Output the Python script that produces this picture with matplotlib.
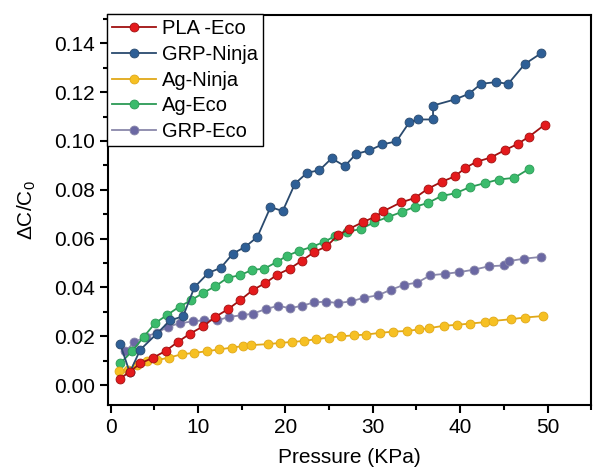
import numpy as np
import matplotlib
matplotlib.use("Agg")
import matplotlib.pyplot as plt
from matplotlib.ticker import MultipleLocator

# Data
pla_eco_x = [1.1, 2.2, 3.4, 4.9, 6.3, 7.7, 9.1, 10.6, 12.0, 13.4, 14.8, 16.3, 17.7, 19.1,
             20.5, 21.9, 23.3, 24.7, 26.0, 27.3, 28.9, 30.3, 31.2, 33.2, 34.8, 36.3, 37.9,
             39.4, 40.6, 41.9, 43.5, 45.1, 46.6, 47.9, 49.7]
pla_eco_y = [0.0027, 0.0055, 0.0089, 0.0113, 0.0140, 0.0177, 0.0211, 0.0241, 0.0280, 0.0310,
             0.0347, 0.0390, 0.0418, 0.0453, 0.0477, 0.0510, 0.0545, 0.0568, 0.0613, 0.0640,
             0.0668, 0.0690, 0.0712, 0.0748, 0.0766, 0.0804, 0.0833, 0.0855, 0.0890, 0.0915,
             0.0932, 0.0962, 0.0988, 0.1018, 0.1067]

grp_ninja_x = [1.1, 2.2, 3.4, 5.3, 6.8, 8.3, 9.6, 11.2, 12.6, 14.0, 15.4, 16.8, 18.3, 19.7,
               21.1, 22.5, 23.9, 25.3, 26.8, 28.1, 29.6, 31.1, 32.7, 34.2, 35.2, 36.9, 36.9,
               39.4, 41.0, 42.4, 44.1, 45.5, 47.4, 49.3]
grp_ninja_y = [0.0168, 0.0052, 0.0145, 0.0211, 0.0265, 0.0282, 0.0401, 0.0460, 0.0480, 0.0539,
               0.0566, 0.0607, 0.0729, 0.0713, 0.0825, 0.0870, 0.0880, 0.0929, 0.0897, 0.0947,
               0.0961, 0.0986, 0.0998, 0.1077, 0.1088, 0.1088, 0.1145, 0.1170, 0.1193, 0.1234,
               0.1241, 0.1234, 0.1315, 0.1360]

ag_ninja_x = [0.95, 2.0, 3.0, 4.2, 5.3, 6.7, 8.2, 9.6, 11.0, 12.4, 13.9, 15.2, 16.1, 18.0,
              19.4, 20.8, 22.1, 23.5, 25.0, 26.4, 27.8, 29.2, 30.8, 32.3, 33.9, 35.3, 36.4,
              38.1, 39.6, 41.1, 42.8, 43.8, 45.8, 47.4, 49.5]
ag_ninja_y = [0.0059, 0.0064, 0.0082, 0.0099, 0.0102, 0.0113, 0.0127, 0.0132, 0.0139, 0.0146,
              0.0154, 0.0160, 0.0164, 0.0168, 0.0173, 0.0177, 0.0181, 0.0188, 0.0195, 0.0200,
              0.0204, 0.0207, 0.0214, 0.0219, 0.0222, 0.0228, 0.0233, 0.0243, 0.0247, 0.0252,
              0.0258, 0.0263, 0.0270, 0.0277, 0.0283]

ag_eco_x = [1.1, 2.5, 3.8, 5.1, 6.5, 7.9, 9.2, 10.6, 12.0, 13.4, 14.8, 16.2, 17.6, 19.0,
            20.2, 21.6, 23.0, 24.4, 25.7, 27.1, 28.7, 30.2, 31.8, 33.3, 34.8, 36.3, 37.9,
            39.5, 41.1, 42.8, 44.4, 46.2, 47.9]
ag_eco_y = [0.0089, 0.0140, 0.0198, 0.0254, 0.0288, 0.0322, 0.0347, 0.0378, 0.0405, 0.0440,
            0.0450, 0.0472, 0.0477, 0.0504, 0.0530, 0.0550, 0.0566, 0.0586, 0.0611, 0.0628,
            0.0640, 0.0668, 0.0689, 0.0709, 0.0730, 0.0746, 0.0775, 0.0786, 0.0811, 0.0827,
            0.0842, 0.0849, 0.0886]

grp_eco_x = [1.7, 2.7, 4.0, 5.3, 6.6, 8.0, 9.4, 10.7, 12.2, 13.6, 15.0, 16.3, 17.8, 19.2,
             20.5, 21.9, 23.3, 24.7, 26.0, 27.5, 29.0, 30.6, 32.1, 33.6, 35.1, 36.6, 38.3,
             39.9, 41.6, 43.3, 45.0, 45.6, 47.3, 49.2]
grp_eco_y = [0.0138, 0.0175, 0.0199, 0.0214, 0.0240, 0.0254, 0.0261, 0.0266, 0.0265, 0.0280,
             0.0286, 0.0293, 0.0312, 0.0325, 0.0315, 0.0325, 0.0339, 0.0342, 0.0336, 0.0343,
             0.0358, 0.0368, 0.0391, 0.0411, 0.0420, 0.0450, 0.0456, 0.0463, 0.0473, 0.0487,
             0.0490, 0.0508, 0.0518, 0.0525]

series = [
    ("PLA -Eco", pla_eco_x, pla_eco_y, "#e41a1c", "#a01010"),
    ("GRP-Ninja", grp_ninja_x, grp_ninja_y, "#2e5f96", "#2a4a6e"),
    ("Ag-Ninja", ag_ninja_x, ag_ninja_y, "#f6c023", "#e0a818"),
    ("Ag-Eco", ag_eco_x, ag_eco_y, "#3bbb6c", "#2b9a55"),
    ("GRP-Eco", grp_eco_x, grp_eco_y, "#6b68a3", "#8a88aa"),
]

plt.rcParams.update({
    'font.family': ['Liberation Sans', 'DejaVu Sans'],
    'mathtext.fontset': 'custom',
    'mathtext.rm': 'Liberation Sans',
    'mathtext.it': 'Liberation Sans',
    'font.size': 15,
})

fig = plt.figure(figsize=(5.93, 4.75), dpi=100)
ax = fig.add_axes([0.182, 0.147, 0.815, 0.821])

# Draw in reverse so PLA sits on top as in the reference
handles = {}
for label, xs, ys, face, line in series[::-1]:
    h, = ax.plot(xs, ys, color=line, linewidth=1.3, marker='o', markersize=6.4,
                 markerfacecolor=face, markeredgecolor=line, markeredgewidth=0.6,
                 label=label)
    handles[label] = h

ax.set_xlim(-0.3, 55)
ax.set_ylim(-0.0082, 0.1515)
ax.xaxis.set_major_locator(MultipleLocator(10))
ax.xaxis.set_minor_locator(MultipleLocator(5))
ax.yaxis.set_major_locator(MultipleLocator(0.02))
ax.yaxis.set_minor_locator(MultipleLocator(0.01))
ax.yaxis.set_major_formatter(matplotlib.ticker.FormatStrFormatter('%.2f'))
ax.tick_params(which='major', direction='out', length=6, width=1.5, labelsize=15)
ax.tick_params(which='minor', direction='out', length=3.5, width=1.5)
for sp in ax.spines.values():
    sp.set_linewidth(1.5)

ax.set_xlabel('Pressure (KPa)', fontsize=15, labelpad=8)
ax.set_ylabel(r'ΔC/C$_0$', fontsize=15, labelpad=11)

leg = ax.legend([handles[s[0]] for s in series], [s[0] for s in series],
                loc='upper left', bbox_to_anchor=(-0.002, 1.002), fontsize=14.5,
                frameon=True, fancybox=False, edgecolor='black', framealpha=1,
                handlelength=2.2, handletextpad=0.3, labelspacing=0.33,
                borderpad=0.25, borderaxespad=0)
leg.get_frame().set_linewidth(1.0)

fig.savefig('out.png', dpi=100)
